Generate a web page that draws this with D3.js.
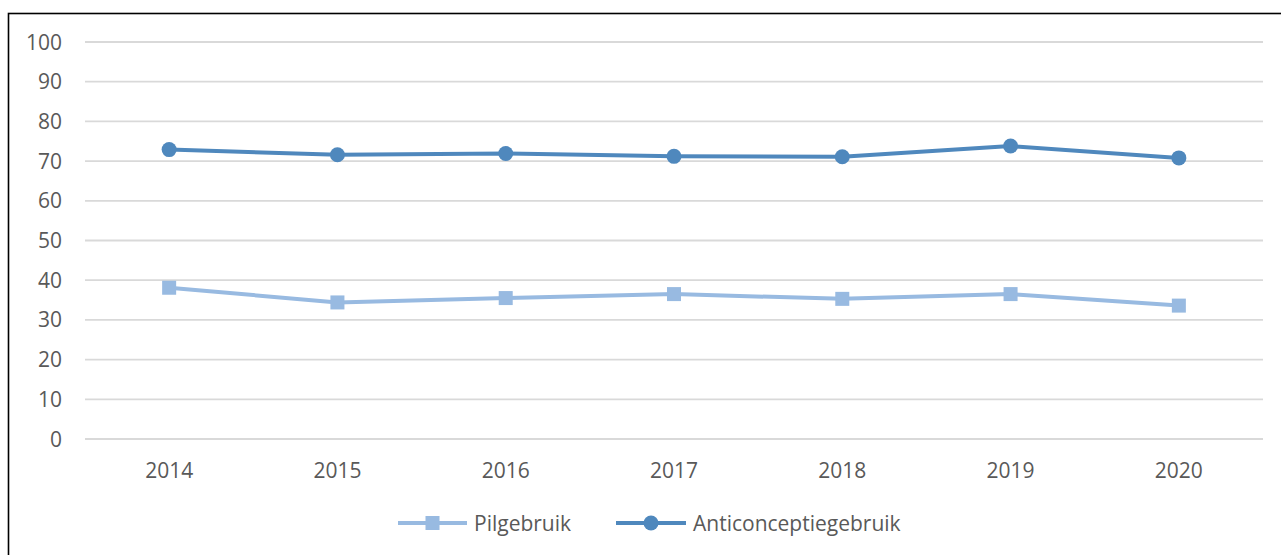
<!DOCTYPE html>
<html>
<head>
<meta charset="utf-8">
<script src="https://cdn.jsdelivr.net/npm/d3@7"></script>
<style>
    body { margin: 0; background: #fff; }
    text { font-family: "Open Sans", "Noto Sans", sans-serif; fill: #595959; }
</style>
</head>
<body>
<div id="container"></div>
<script>
// chart values
const years = ["2014", "2015", "2016", "2017", "2018", "2019", "2020"]
const pilgebruik = [38.1, 34.4, 35.5, 36.5, 35.3, 36.5, 33.6]
const anticonceptiegebruik = [72.9, 71.6, 71.9, 71.2, 71.1, 73.8, 70.8]
const yTicks = [0, 10, 20, 30, 40, 50, 60, 70, 80, 90, 100]
const seriesNames = ["Pilgebruik", "Anticonceptiegebruik"]

const width = 1281, height = 555
const plot = { left: 85, right: 1263, top: 42, bottom: 439 }
const colors = { pil: "#98BAE1", anti: "#4F88BD" }
const fontSize = "21px"

const svg = d3.select("#container")
    .append("svg")
    .attr("width", width)
    .attr("height", height)

// outer chart border (only top and left visible in frame)
svg.append("rect")
    .attr("x", 8.5).attr("y", 13.5)
    .attr("width", width + 20).attr("height", height + 20)
    .attr("fill", "none")
    .attr("stroke", "#000")
    .attr("stroke-width", 1.6)

const x = d3.scaleBand().domain(years).range([plot.left, plot.right])
const y = d3.scaleLinear().domain([0, 100]).range([plot.bottom, plot.top])
const cx = d => x(d) + x.bandwidth() / 2

// gridlines
svg.append("g")
    .selectAll("line")
    .data(yTicks).enter()
    .append("line")
    .attr("x1", plot.left).attr("x2", plot.right)
    .attr("y1", d => y(d)).attr("y2", d => y(d))
    .attr("stroke", "#d9d9d9")
    .attr("stroke-width", 1.8)

// y axis labels
svg.append("g")
    .selectAll("text")
    .data(yTicks).enter()
    .append("text")
    .attr("x", 62)
    .attr("y", d => y(d))
    .attr("dy", "0.36em")
    .attr("text-anchor", "end")
    .style("font-size", fontSize)
    .text(d => d)

// x axis labels
svg.append("g")
    .selectAll("text")
    .data(years).enter()
    .append("text")
    .attr("x", d => cx(d))
    .attr("y", 478)
    .attr("text-anchor", "middle")
    .style("font-size", fontSize)
    .text(d => d)

const line = d3.line()
    .x(d => cx(d.year))
    .y(d => y(d.value))

const pilData = years.map((yr, i) => ({ year: yr, value: pilgebruik[i] }))
const antiData = years.map((yr, i) => ({ year: yr, value: anticonceptiegebruik[i] }))

// Pilgebruik series
svg.append("path")
    .datum(pilData)
    .attr("d", line)
    .attr("fill", "none")
    .attr("stroke", colors.pil)
    .attr("stroke-width", 4)
    .attr("stroke-linejoin", "round")

svg.append("g")
    .selectAll("rect")
    .data(pilData).enter()
    .append("rect")
    .attr("x", d => cx(d.year) - 7)
    .attr("y", d => y(d.value) - 7)
    .attr("width", 14).attr("height", 14)
    .attr("fill", colors.pil)

// Anticonceptiegebruik series
svg.append("path")
    .datum(antiData)
    .attr("d", line)
    .attr("fill", "none")
    .attr("stroke", colors.anti)
    .attr("stroke-width", 4)
    .attr("stroke-linejoin", "round")

svg.append("g")
    .selectAll("circle")
    .data(antiData).enter()
    .append("circle")
    .attr("cx", d => cx(d.year))
    .attr("cy", d => y(d.value))
    .attr("r", 7.5)
    .attr("fill", colors.anti)

// legend
const legendY = 523
const legend = svg.append("g")

legend.append("line")
    .attr("x1", 398).attr("x2", 467)
    .attr("y1", legendY).attr("y2", legendY)
    .attr("stroke", colors.pil).attr("stroke-width", 4)
legend.append("rect")
    .attr("x", 425.5).attr("y", legendY - 7)
    .attr("width", 14).attr("height", 14)
    .attr("fill", colors.pil)
legend.append("text")
    .attr("x", 474).attr("y", legendY)
    .attr("dy", "0.36em")
    .style("font-size", fontSize)
    .text(seriesNames[0])

legend.append("line")
    .attr("x1", 616).attr("x2", 686)
    .attr("y1", legendY).attr("y2", legendY)
    .attr("stroke", colors.anti).attr("stroke-width", 4)
legend.append("circle")
    .attr("cx", 651).attr("cy", legendY)
    .attr("r", 7.5)
    .attr("fill", colors.anti)
legend.append("text")
    .attr("x", 693).attr("y", legendY)
    .attr("dy", "0.36em")
    .style("font-size", fontSize)
    .text(seriesNames[1])
</script>
</body>
</html>
